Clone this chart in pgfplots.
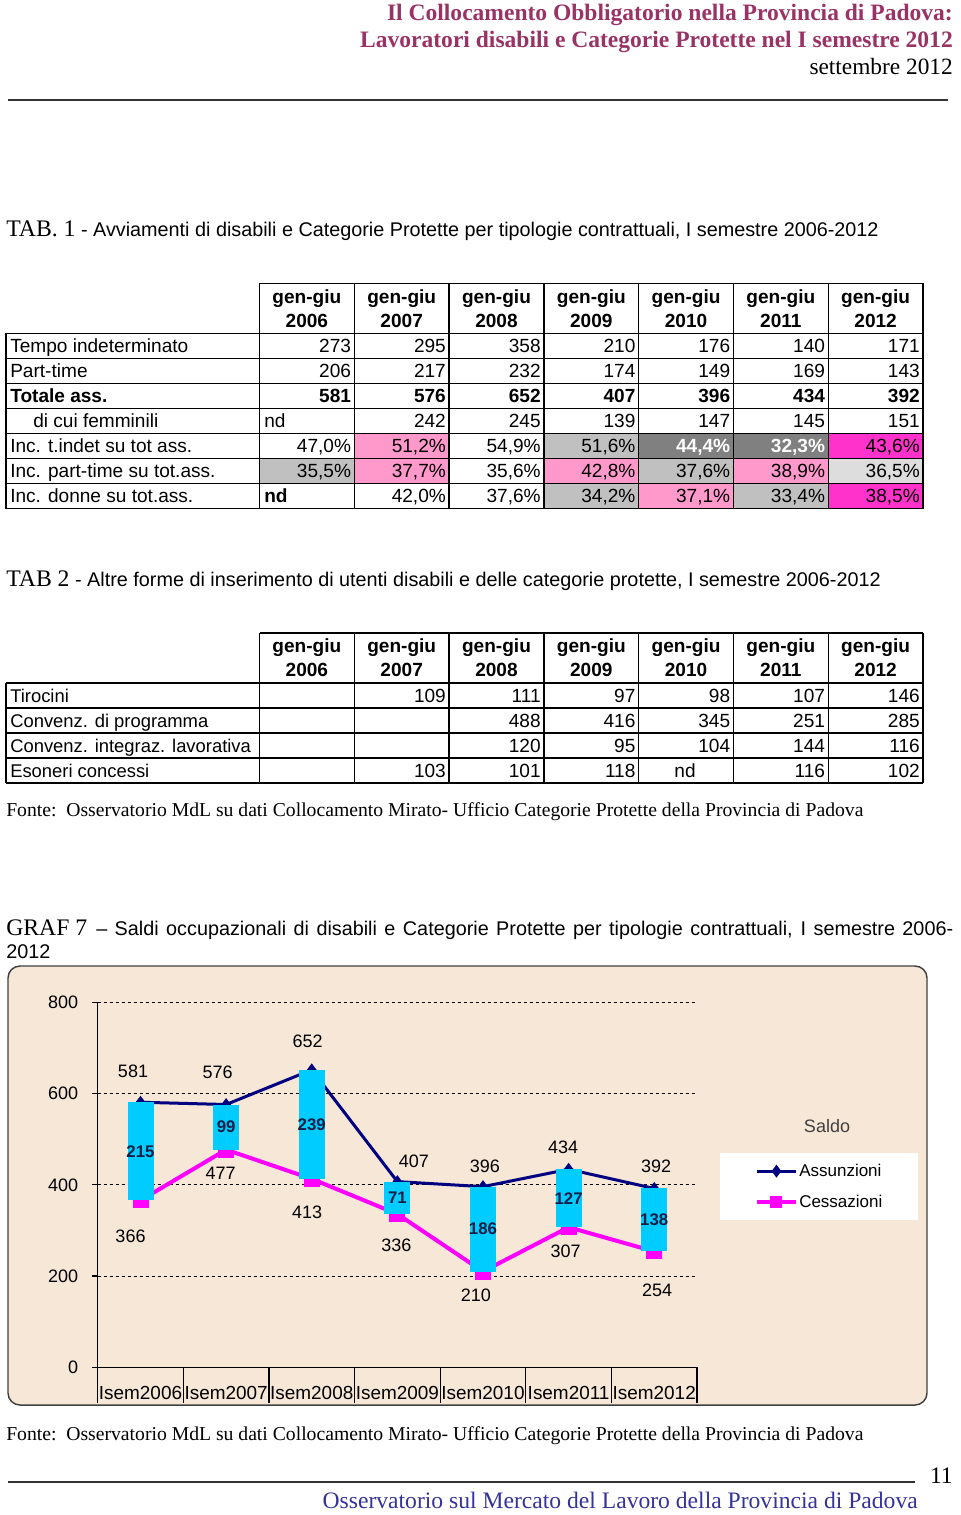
\documentclass[border=0pt]{standalone}
\usepackage{pgfplots}
\pgfplotsset{compat=1.18}
\usepackage{pgfplotstable}
\usepackage{fontspec}
\setmainfont{Liberation Sans}
\newfontfamily\serif{Liberation Serif}

\definecolor{maroon}{RGB}{153,51,102}
\definecolor{footblue}{RGB}{51,51,153}
\definecolor{pinkc}{RGB}{255,153,204}
\definecolor{magc}{RGB}{255,51,204}
\definecolor{grayc}{RGB}{192,192,192}
\definecolor{dgrayc}{RGB}{128,128,128}
\definecolor{lgrayc}{RGB}{221,221,221}
\definecolor{chartbg}{RGB}{247,231,214}
\definecolor{barcyan}{RGB}{0,204,255}
\definecolor{navyline}{RGB}{0,0,128}
\definecolor{magline}{RGB}{255,0,255}
\definecolor{saldotxt}{RGB}{20,30,70}

\newcommand\tabfont{\fontsize{14.3}{16}\selectfont}
\newcommand\titfont{\fontsize{14.85}{17}\selectfont}
\newcommand\lblfont{\fontsize{13.5}{15}\selectfont}
\newcommand\catfont{\fontsize{14.2}{16}\selectfont}
\newcommand\saldofont{\fontsize{12.6}{14}\selectfont\bfseries}
\newcommand\legfont{\fontsize{12.75}{14}\selectfont}

% one row of right-aligned cells: baseline, font, first column, values
\newcommand\numrow[4]{\foreach \v [count=\i from #3] in {#4}{%
  \node[anchor=base east,inner sep=0pt,font=\tabfont#2] at ({259.5+94.79*\i-3},#1) {\v};}}
\newcommand\fillrow[2]{\foreach \c [count=\i] in {#2}{%
  \fill[\c] ({259.5+94.79*(\i-1)},#1) rectangle ({259.5+94.79*\i},#1+25);}}
\newcommand\yearhead[2]{\foreach \yy [count=\i] in {2006,...,2012}{%
  \node[anchor=base,inner sep=0pt,font=\tabfont\bfseries] at ({259.5+94.79*(\i-0.5)},#1) {gen-giu};
  \node[anchor=base,inner sep=0pt,font=\tabfont\bfseries] at ({259.5+94.79*(\i-0.5)},#2) {\yy};}}

% assunzioni, cessazioni, saldo; label offsets in px
\pgfplotstableread{
x ass ces saldo adx ady cdx cdy
0 581 366 215 -7.5 31 -10 -36
1 576 477 99 -8.4 32.5 -5.4 -23.6
2 652 413 239 -4 29 -4.7 -33.4
3 407 336 71 16.4 20.6 -1 -31
4 396 210 186 2 20.6 -7 -23.5
5 434 307 127 -5.5 21.6 -3 -24
6 392 254 138 2 21.8 3 -38.6
}\saldi

\pgfplotsset{chartbox/.style={
  at={(73.275pt,-1025.475pt)}, anchor=south west,
  scale only axis, width=449.5pt, height=273.75pt,
  xmin=-0.5, xmax=6.5, ymin=0, ymax=800, clip=false}}

\begin{document}
\begin{tikzpicture}
\fill[white] (0,0) rectangle (720pt,-1136.25pt);
\useasboundingbox (0,0) rectangle (720pt,-1136.25pt);

\begin{scope}[x=0.75pt,y=-0.75pt]
% page header
\node[anchor=base east,inner sep=0pt,text=maroon,font=\serif\bfseries\fontsize{17.65}{20}\selectfont] at (953,21) {Il Collocamento Obbligatorio nella Provincia di Padova:};
\node[anchor=base east,inner sep=0pt,text=maroon,font=\serif\bfseries\fontsize{17.65}{20}\selectfont] at (953,48) {Lavoratori disabili e Categorie Protette nel I semestre 2012};
\node[anchor=base east,inner sep=0pt,font=\serif\fontsize{17.5}{20}\selectfont] at (953,75) {settembre 2012};
\draw[line width=0.8pt,black!80] (8,100) -- (948,100);

% TAB 1
\node[anchor=base west,inner sep=0pt,font=\titfont] at (6,236.5) {{\serif\fontsize{17.8}{19}\selectfont TAB. 1} - Avviamenti di disabili e Categorie Protette per tipologie contrattuali, I semestre 2006-2012};
\fillrow{433.5}{white,pinkc,white,grayc,dgrayc,dgrayc,magc}
\fillrow{458.5}{grayc,pinkc,white,pinkc,grayc,pinkc,lgrayc}
\fillrow{483.5}{white,white,white,grayc,pinkc,grayc,magc}
\begin{scope}[line width=1.1pt]
\draw (259.5,283.5) -- (923,283.5);
\foreach \k in {0,...,7} \draw (6,333.5+25*\k) -- (923,333.5+25*\k);
\draw (6,333.5) -- (6,508.5);
\foreach \k in {0,...,7} \draw ({259.5+94.79*\k},283.5) -- ({259.5+94.79*\k},508.5);
\end{scope}
\yearhead{303.7}{327.7}
\foreach \t/\xx/\yy in {Tempo indeterminato/10/352.7, Part-time/10/377.7, di cui femminili/33/427.7,
  Inc. t.indet su tot ass./10/452.7, Inc. part-time su tot.ass./10/477.7, Inc. donne su tot.ass./10/502.7}
  \node[anchor=base west,inner sep=0pt,font=\tabfont] at (\xx,\yy) {\t};
\node[anchor=base west,inner sep=0pt,font=\tabfont\bfseries] at (10,402.7) {Totale ass.};
\numrow{352.7}{}{1}{273,295,358,210,176,140,171}
\numrow{377.7}{}{1}{206,217,232,174,149,169,143}
\numrow{402.7}{\bfseries}{1}{581,576,652,407,396,434,392}
\node[anchor=base west,inner sep=0pt,font=\tabfont] at (264,427.7) {nd};
\numrow{427.7}{}{2}{242,245,139,147,145,151}
\numrow{452.7}{}{1}{{47,0\%},{51,2\%},{54,9\%},{51,6\%}}
\numrow{452.7}{\bfseries\color{white}}{5}{{44,4\%},{32,3\%}}
\numrow{452.7}{}{7}{{43,6\%}}
\numrow{477.7}{}{1}{{35,5\%},{37,7\%},{35,6\%},{42,8\%},{37,6\%},{38,9\%},{36,5\%}}
\node[anchor=base west,inner sep=0pt,font=\tabfont\bfseries] at (264,502.7) {nd};
\numrow{502.7}{}{2}{{42,0\%},{37,6\%},{34,2\%},{37,1\%},{33,4\%},{38,5\%}}

% TAB 2
\node[anchor=base west,inner sep=0pt,font=\titfont] at (6,586.5) {{\serif\fontsize{17.8}{19}\selectfont TAB 2} - Altre forme di inserimento di utenti disabili e delle categorie protette, I semestre 2006-2012};
\begin{scope}[line width=1.1pt]
\draw (259.5,633) -- (923,633);
\foreach \k in {0,...,4} \draw (6,683+25*\k) -- (923,683+25*\k);
\draw (6,683) -- (6,783);
\foreach \k in {0,...,7} \draw ({259.5+94.79*\k},633) -- ({259.5+94.79*\k},783);
\end{scope}
\yearhead{652.7}{676.7}
\foreach \t/\yy in {Tirocini/702.2, Convenz. di programma/727.2, Convenz. integraz. lavorativa/752.2, Esoneri concessi/777.2}
  \node[anchor=base west,inner sep=0pt,font=\fontsize{13.8}{16}\selectfont] at (10,\yy) {\t};
\numrow{702.2}{}{2}{109,111,97,98,107,146}
\numrow{727.2}{}{3}{488,416,345,251,285}
\numrow{752.2}{}{3}{120,95,104,144,116}
\numrow{777.2}{}{2}{103,101,118}
\node[anchor=base,inner sep=0pt,font=\tabfont] at (685,777.2) {nd};
\numrow{777.2}{}{6}{116,102}
\node[anchor=base west,inner sep=0pt,font=\serif\fontsize{14.75}{17}\selectfont] at (6,816) {Fonte:\ \ Osservatorio MdL su dati Collocamento Mirato- Ufficio Categorie Protette della Provincia di Padova};

% GRAF 7
\node[anchor=base west,inner sep=0pt,font=\serif\fontsize{17.8}{19}\selectfont] at (6,935) {GRAF 7};
\node[anchor=base west,inner sep=0pt,font=\titfont] at (96,935) {\makebox[642.75pt][s]{– Saldi occupazionali di disabili e Categorie Protette per tipologie contrattuali, I semestre 2006-}};
\node[anchor=base west,inner sep=0pt,font=\titfont] at (6,958) {2012};
\draw[rounded corners=9pt,fill=chartbg,draw=black!75,line width=1.1pt] (8,966) rectangle (927,1405);

% footer
\node[anchor=base west,inner sep=0pt,font=\serif\fontsize{14.75}{17}\selectfont] at (6,1440) {Fonte:\ \ Osservatorio MdL su dati Collocamento Mirato- Ufficio Categorie Protette della Provincia di Padova};
\draw[line width=0.8pt,black!80] (8,1482) -- (915,1482);
\node[anchor=base east,inner sep=0pt,font=\serif\fontsize{17.7}{19}\selectfont] at (953,1483) {11};
\node[anchor=base east,inner sep=0pt,text=footblue,font=\serif\fontsize{17.7}{19}\selectfont] at (918,1508) {Osservatorio sul Mercato del Lavoro della Provincia di Padova};
\end{scope}

% lines, grid and legend
\begin{axis}[chartbox,
  axis x line*=bottom, axis y line*=left,
  axis line style={black, line width=0.9pt},
  /pgf/number format/assume math mode=true,
  ytick={0,200,...,800},
  ymajorgrids, grid style={black, line width=0.8pt, dash pattern=on 2.5pt off 2pt},
  tick align=outside, major tick length=4.5pt,
  tick style={black, line width=0.9pt},
  y tick label style={font=\lblfont, anchor=east, inner sep=0pt, xshift=-10pt},
  xtick={0,...,6},
  xticklabels={Isem2006,Isem2007,Isem2008,Isem2009,Isem2010,Isem2011,Isem2012},
  xtick style={draw=none},
  x tick label style={font=\catfont, anchor=center, inner sep=0pt, yshift=-14.75pt},
  extra x ticks={-0.5,0.5,...,6.5},
  extra x tick labels={},
  extra x tick style={major tick length=27pt, xtick style={draw=black, line width=0.9pt}},
  legend style={at={(1.0384,0.587)}, anchor=north west, draw=none, fill=white,
    font=\legfont, inner xsep=26pt, inner ysep=7pt, row sep=10.5pt, nodes={inner sep=1pt}},
  legend cell align=left,
  legend image code/.code={\draw[mark repeat=2,mark phase=2,#1,mark size=3pt]
    plot coordinates {(0pt,0pt) (14.6pt,0pt) (29.2pt,0pt)};},
]
\addplot[navyline, line width=2.25pt, mark=diamond*, mark size=3pt] table[x=x,y=ass]{\saldi};
\addlegendentry{Assunzioni}
\addplot[magline, line width=3pt, mark=square*, mark size=4.5pt] table[x=x,y=ces]{\saldi};
\addlegendentry{Cessazioni}
\end{axis}

% up-down bars and value labels, on top of the lines
\begin{axis}[chartbox, hide axis]
\addplot[draw=none, mark=none,
  error bars/.cd, y dir=minus, y explicit, error mark=none,
  error bar style={draw=barcyan, line width=19.5pt, solid}]
  table[x=x, y=ass, y error=saldo]{\saldi};
\addplot[draw=none, mark=none, nodes near coords, point meta=explicit symbolic,
  nodes near coords align=center,
  visualization depends on={\thisrow{adx}\as\labx},
  visualization depends on={\thisrow{ady}\as\laby},
  every node near coord/.append style={font=\lblfont, text=black, anchor=center, inner sep=0pt,
    xshift=\labx*0.75pt, yshift=\laby*0.75pt}]
  table[x=x, y=ass, meta=ass]{\saldi};
\addplot[draw=none, mark=none, nodes near coords, point meta=explicit symbolic,
  nodes near coords align=center,
  visualization depends on={\thisrow{cdx}\as\labx},
  visualization depends on={\thisrow{cdy}\as\laby},
  every node near coord/.append style={font=\lblfont, text=black, anchor=center, inner sep=0pt,
    xshift=\labx*0.75pt, yshift=\laby*0.75pt}]
  table[x=x, y=ces, meta=ces]{\saldi};
\addplot[draw=none, mark=none, nodes near coords, point meta=explicit symbolic,
  nodes near coords align=center,
  every node near coord/.append style={font=\saldofont, text=saldotxt, anchor=center, inner sep=0pt}]
  table[x=x, y expr=(\thisrow{ass}+\thisrow{ces})/2, meta=saldo]{\saldi};
\end{axis}

\begin{scope}[x=0.75pt,y=-0.75pt]
\node[font=\fontsize{13.5}{15}\selectfont, text=black!75] at (827,1126) {Saldo};
\end{scope}
\end{tikzpicture}
\end{document}
